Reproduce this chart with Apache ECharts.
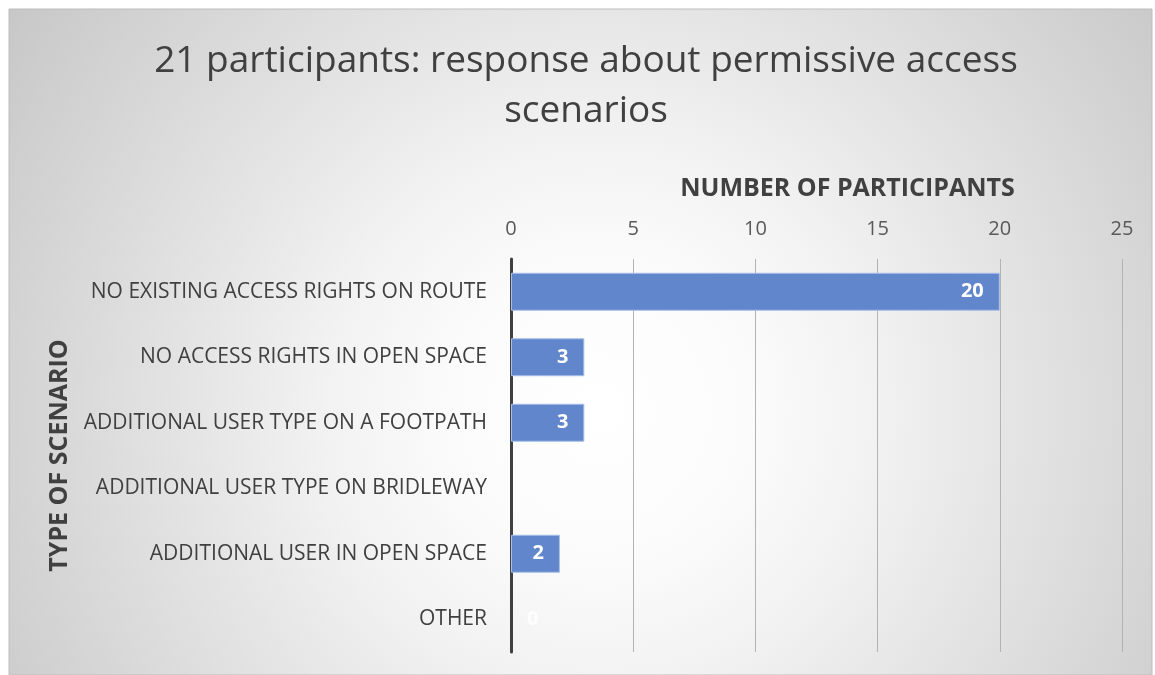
<!DOCTYPE html>
<html>
<head>
<meta charset="utf-8">
<script src="https://cdn.jsdelivr.net/npm/echarts@6/dist/echarts.min.js"></script>
<style>
  html, body { margin: 0; padding: 0; background: #ffffff; }
  #chart { width: 1155px; height: 675px; }
</style>
</head>
<body>
<div id="chart"></div>
<script>
// Scenario categories, top to bottom
const categories = [
  'NO EXISTING ACCESS RIGHTS ON ROUTE',
  'NO ACCESS RIGHTS IN OPEN SPACE',
  'ADDITIONAL USER TYPE ON A FOOTPATH',
  'ADDITIONAL USER TYPE ON BRIDLEWAY',
  'ADDITIONAL USER IN OPEN SPACE',
  'OTHER'
];
// Number of participants per scenario (null = no response recorded)
const participants = [20, 3, 3, null, 2, 0];
const axisTicks = [0, 5, 10, 15, 20, 25];

const FONT = '"Open Sans", "Liberation Sans", sans-serif';

const chart = echarts.init(document.getElementById('chart'), null, { renderer: 'canvas' });

// Zero values: no visible bar, label sits just right of the axis
const barData = participants.map(v => {
  if (v === 0) {
    return {
      value: v,
      itemStyle: { borderWidth: 0, color: 'rgba(0,0,0,0)' },
      label: { position: 'right', distance: 16, color: 'rgba(255,255,255,0.85)' }
    };
  }
  return { value: v };
});

chart.setOption({
  backgroundColor: '#ffffff',
  animation: false,
  graphic: [{
    type: 'rect',
    z: -10,
    silent: true,
    shape: { x: 9, y: 9, width: 1143, height: 666 },
    style: {
      fill: {
        type: 'radial', x: 600, y: 410, r: 760, global: true,
        colorStops: [
          { offset: 0, color: '#ffffff' },
          { offset: 0.2, color: '#fbfbfb' },
          { offset: 0.36, color: '#f2f2f2' },
          { offset: 0.52, color: '#e6e6e6' },
          { offset: 0.78, color: '#d3d3d3' },
          { offset: 1, color: '#c3c3c3' }
        ]
      },
      stroke: '#bdbdbd',
      lineWidth: 1
    }
  }],
  title: {
    text: '21 participants: response about permissive access\nscenarios',
    left: 581,
    top: 31,
    textAlign: 'center',
    textStyle: {
      fontFamily: FONT,
      fontSize: 37,
      fontWeight: 'normal',
      color: '#404040',
      lineHeight: 50,
      align: 'center'
    }
  },
  grid: { left: 511, right: 33, top: 259, bottom: 23, containLabel: false },
  xAxis: {
    type: 'value',
    position: 'top',
    min: 0,
    max: 25,
    interval: 5,
    name: 'NUMBER OF PARTICIPANTS',
    nameLocation: 'middle',
    nameGap: 58,
    nameTextStyle: {
      fontFamily: FONT,
      fontSize: 25,
      fontWeight: 'bold',
      color: '#404040',
      padding: [0, 0, 0, 62]
    },
    axisLine: { show: false },
    axisTick: { show: false },
    axisLabel: {
      fontFamily: FONT,
      fontSize: 20,
      color: '#595959',
      margin: 20,
      formatter: v => axisTicks.includes(v) ? String(v) : ''
    },
    splitLine: { lineStyle: { color: '#b3b3b3', width: 1 } }
  },
  yAxis: {
    type: 'category',
    inverse: true,
    data: categories,
    name: 'TYPE OF SCENARIO',
    nameLocation: 'middle',
    nameGap: 433,
    nameRotate: 90,
    nameTextStyle: {
      fontFamily: FONT,
      fontSize: 25,
      fontWeight: 'bold',
      color: '#404040'
    },
    axisLine: { show: true, lineStyle: { color: '#404040', width: 3 } },
    axisTick: { show: false },
    axisLabel: {
      fontFamily: FONT,
      fontSize: 21,
      color: '#404040',
      margin: 24,
      padding: [3, 0, 0, 0]
    }
  },
  series: [{
    type: 'bar',
    data: barData,
    barCategoryGap: '42%',
    itemStyle: { color: '#6186cc', borderColor: '#a8bfe6', borderWidth: 1 },
    label: {
      show: true,
      position: 'insideRight',
      distance: 16,
      fontFamily: FONT,
      fontSize: 20,
      fontWeight: 'bold',
      color: '#ffffff'
    }
  }]
});
</script>
</body>
</html>
